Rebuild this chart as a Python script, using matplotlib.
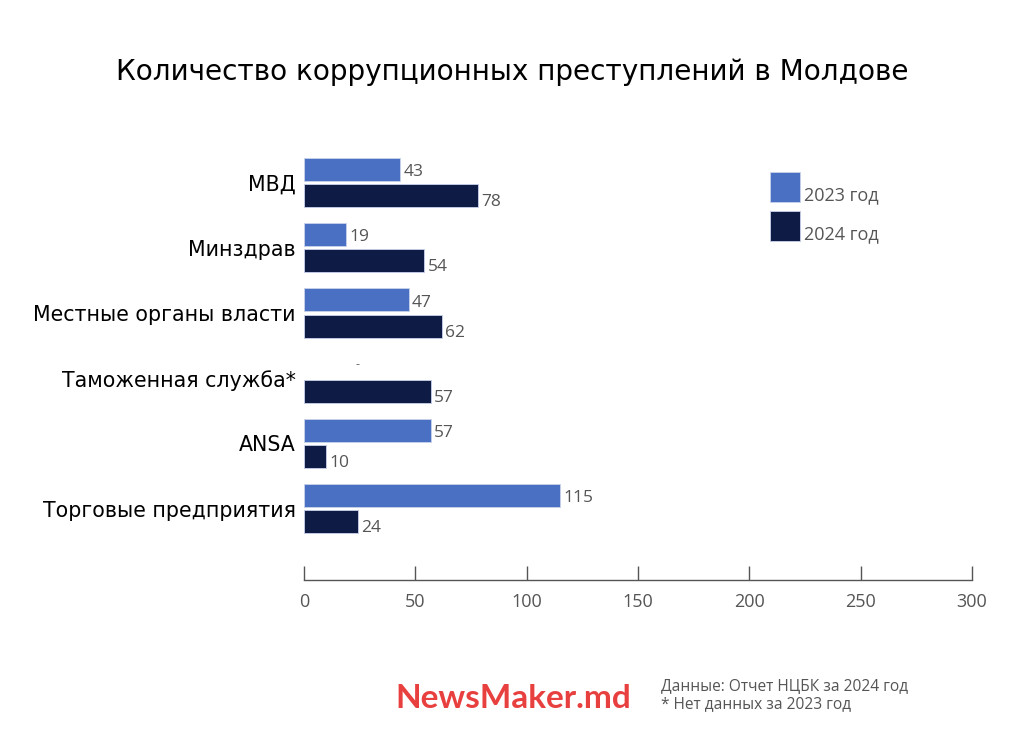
import matplotlib
matplotlib.use("Agg")
import matplotlib.pyplot as plt
from matplotlib.patches import Rectangle

# данные
categories = ["МВД", "Минздрав", "Местные органы власти", "Таможенная служба*", "ANSA", "Торговые предприятия"]
values_2023 = [43, 19, 47, None, 57, 115]
values_2024 = [78, 54, 62, 57, 10, 24]
series_labels = ["2023 год", "2024 год"]
xticks = [0, 50, 100, 150, 200, 250, 300]

color_2023 = "#4a70c4"
color_2024 = "#0e1b45"
gray = "#555555"

fig = plt.figure(figsize=(10.24, 7.37), dpi=100)
ax = fig.add_axes([0.297, 0.213, 0.652, 0.590])

h = 0.353
off = 0.2
for i, (v23, v24) in enumerate(zip(values_2023, values_2024)):
    if v23 is not None:
        ax.barh(i - off, v23, height=h, color=color_2023, edgecolor="#c8d2ea", linewidth=0.6)
        ax.text(v23 + 1.5, i - off + 0.04, str(v23), va="center", ha="left",
                fontsize=12.5, color=gray, family="Open Sans")
    else:
        ax.text(24, i - off - 0.02, "-", va="center", ha="center", fontsize=8, color=gray)
    ax.barh(i + off, v24, height=h, color=color_2024, edgecolor="#c8d2ea", linewidth=0.6)
    ax.text(v24 + 1.5, i + off + 0.1, str(v24), va="center", ha="left",
            fontsize=12.5, color=gray, family="Open Sans")

ax.set_xlim(0, 300)
ax.set_ylim(5 + 1.097, -0.575)
ax.set_yticks(range(len(categories)))
ax.set_yticklabels(categories, fontsize=14.8, color="black", family="DejaVu Sans")
ax.tick_params(axis="y", length=0, pad=6)
ax.set_xticks(xticks)
ax.set_xticklabels([str(t) for t in xticks], fontsize=13, color=gray, family="Open Sans")
ax.tick_params(axis="x", direction="in", length=10, width=1, color=gray, pad=9)
for s in ["top", "right", "left"]:
    ax.spines[s].set_visible(False)
ax.spines["bottom"].set_color(gray)
ax.spines["bottom"].set_linewidth(1)

# легенда
for k, (lab, col) in enumerate(zip(series_labels, [color_2023, color_2024])):
    y0 = 1 - (202 + 39 * k) / 737
    fig.patches.append(Rectangle((770 / 1024, y0), 30 / 1024, 30 / 737,
                                 transform=fig.transFigure, facecolor=col,
                                 edgecolor="#c8d2ea", linewidth=0.6))
    fig.text(804 / 1024, 1 - (195 + 39 * k) / 737, lab, fontsize=13, color=gray,
             family="Open Sans", va="center", ha="left")

fig.text(0.5, 1 - 72 / 737, "Количество коррупционных преступлений в Молдове",
         fontsize=20.1, ha="center", va="center", family="DejaVu Sans")

fig.text(395 / 1024, 1 - 698 / 737, "NewsMaker.md", fontsize=24, fontweight="bold",
         color="#e8403f", family="Lato", ha="left", va="center")
fig.text(661 / 1024, 1 - 687 / 737, "Данные: Отчет НЦБК за 2024 год", fontsize=11.2,
         color=gray, family="Open Sans", ha="left", va="center")
fig.text(661 / 1024, 1 - 704 / 737, "* Нет данных за 2023 год", fontsize=11.2,
         color=gray, family="Open Sans", ha="left", va="center")

fig.savefig("out.png", dpi=100, facecolor="white")
